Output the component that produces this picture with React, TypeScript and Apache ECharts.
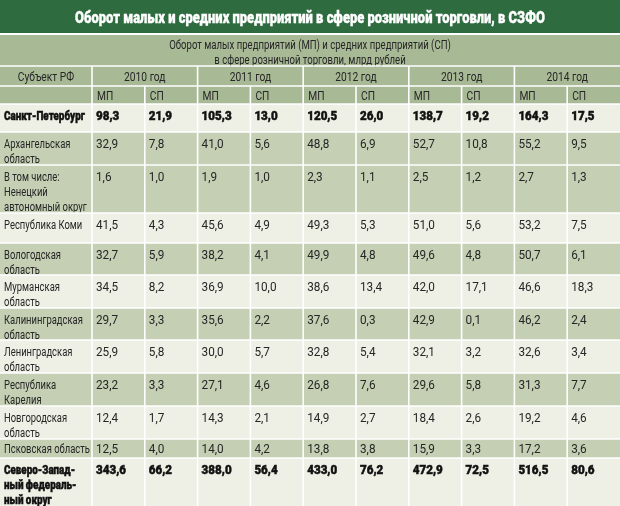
import React, { useEffect, useRef } from "react";
import * as echarts from "echarts";

const titleText = "Оборот малых и средних предприятий в сфере розничной торговли, в СЗФО";
const subtitleLines = [
  "Оборот малых предприятий (МП) и средних предприятий (СП)",
  "в сфере розничной торговли, млрд рублей",
];
const subjectLabel = "Субъект РФ";
const years = ["2010 год", "2011 год", "2012 год", "2013 год", "2014 год"];
const sizeLabels = ["МП", "СП"];

const regions = [
  "Санкт-Петербург",
  "Архангельская\nобласть",
  "В том числе:\nНенецкий\nавтономный округ",
  "Республика Коми",
  "Вологодская\nобласть",
  "Мурманская\nобласть",
  "Калининградская\nобласть",
  "Ленинградская\nобласть",
  "Республика\nКарелия",
  "Новгородская\nобласть",
  "Псковская область",
  "Северо-Запад-\nный федераль-\nный округ",
];

const mp2010 = [98.3, 32.9, 1.6, 41.5, 32.7, 34.5, 29.7, 25.9, 23.2, 12.4, 12.5, 343.6];
const sp2010 = [21.9, 7.8, 1.0, 4.3, 5.9, 8.2, 3.3, 5.8, 3.3, 1.7, 4.0, 66.2];
const mp2011 = [105.3, 41.0, 1.9, 45.6, 38.2, 36.9, 35.6, 30.0, 27.1, 14.3, 14.0, 388.0];
const sp2011 = [13.0, 5.6, 1.0, 4.9, 4.1, 10.0, 2.2, 5.7, 4.6, 2.1, 4.2, 56.4];
const mp2012 = [120.5, 48.8, 2.3, 49.3, 49.9, 38.6, 37.6, 32.8, 26.8, 14.9, 13.8, 433.0];
const sp2012 = [26.0, 6.9, 1.1, 5.3, 4.8, 13.4, 0.3, 5.4, 7.6, 2.7, 3.8, 76.2];
const mp2013 = [138.7, 52.7, 2.5, 51.0, 49.6, 42.0, 42.9, 32.1, 29.6, 18.4, 15.9, 472.9];
const sp2013 = [19.2, 10.8, 1.2, 5.6, 4.8, 17.1, 0.1, 3.2, 5.8, 2.6, 3.3, 72.5];
const mp2014 = [164.3, 55.2, 2.7, 53.2, 50.7, 46.6, 46.2, 32.6, 31.3, 19.2, 17.2, 516.5];
const sp2014 = [17.5, 9.5, 1.3, 7.5, 6.1, 18.3, 2.4, 3.4, 7.7, 4.6, 3.6, 80.6];

const boldRows = [0, 11];
const shadedRows = [1, 2, 4, 6, 8, 10];

// layout
const W = 620;
const H = 506;
const FIRST_COL = 92;
const TITLE_H = 33;
const SUB_TOP = 35;
const YEAR_TOP = 66;
const SIZE_TOP = 86;
const TABLE_TOP = 104;
const rowHeights = [28, 33, 48, 30, 32, 33, 32, 33, 33, 33, 19, 48];

const C_TITLE = "#2e6c40";
const C_HEAD = "#a8b996";
const C_GREEN = "#c4cfb4";
const C_LIGHT = "#eef0e5";
const C_TEXT = "#262626";
const FONT = "Roboto, 'Noto Sans', sans-serif";

const fmt = (v: number) => v.toFixed(1).replace(".", ",");

function measure(text: string, font: string) {
  const c = document.createElement("canvas").getContext("2d");
  if (!c) return 1;
  c.font = font;
  return c.measureText(text).width || 1;
}

function txt(text: string, x: number, y: number, o: any) {
  const { scaleX = 1, ...style } = o;
  return {
    type: "text",
    x,
    y,
    scaleX,
    style: { text, x: 0, y: 0, fontFamily: FONT, fill: C_TEXT, ...style },
  };
}

function buildGraphic() {
  const cols = [mp2010, sp2010, mp2011, sp2011, mp2012, sp2012, mp2013, sp2013, mp2014, sp2014];
  const colW = (W - FIRST_COL) / cols.length;
  const els: any[] = [];
  els.push({ type: "rect", shape: { x: 0, y: 0, width: W, height: H }, style: { fill: "#ffffff" } });
  els.push({ type: "rect", shape: { x: 0, y: 0, width: W, height: TITLE_H }, style: { fill: C_TITLE } });
  const titleScale = 470 / measure(titleText, `900 17px Roboto`);
  els.push(
    txt(titleText, W / 2, TITLE_H / 2 + 1, {
      fill: "#ffffff", fontSize: 17, fontWeight: 900, align: "center", verticalAlign: "middle", scaleX: titleScale,
      stroke: "#ffffff", lineWidth: 0.4,
    })
  );
  els.push({ type: "rect", shape: { x: 0, y: SUB_TOP, width: W, height: TABLE_TOP - SUB_TOP }, style: { fill: C_HEAD } });
  const subScale = 282 / measure(subtitleLines[0], `12.5px Roboto`);
  els.push(
    txt(subtitleLines.join("\n"), W / 2, SUB_TOP + 3, {
      fontSize: 12.5, align: "center", verticalAlign: "top", lineHeight: 15, scaleX: subScale,
    })
  );
  const headScale = 0.76;
  els.push(
    txt(subjectLabel, FIRST_COL / 2, (YEAR_TOP + SIZE_TOP) / 2 + 0.5, {
      fontSize: 13.5, align: "center", verticalAlign: "middle", scaleX: headScale,
    })
  );
  years.forEach((yr, i) => {
    els.push(
      txt(yr, FIRST_COL + colW * (2 * i + 1), (YEAR_TOP + SIZE_TOP) / 2 + 0.5, {
        fontSize: 13.5, align: "center", verticalAlign: "middle", scaleX: headScale,
      })
    );
  });
  cols.forEach((_, j) => {
    els.push(
      txt(sizeLabels[j % 2], FIRST_COL + colW * j + 5, (SIZE_TOP + TABLE_TOP) / 2 + 0.5, {
        fontSize: 13.5, align: "left", verticalAlign: "middle", scaleX: headScale,
      })
    );
  });
  // body
  let y = TABLE_TOP;
  const rowTops: number[] = [];
  regions.forEach((name, r) => {
    const h = rowHeights[r];
    rowTops.push(y);
    els.push({
      type: "rect", shape: { x: 0, y, width: W, height: h },
      style: { fill: shadedRows.includes(r) ? C_GREEN : C_LIGHT },
    });
    const bold = boldRows.includes(r);
    const firstMid = Math.min(11.5, h / 2);
    const ty = y + firstMid - 7.5;
    const common: any = {
      fontSize: 13.5, fontWeight: bold ? 900 : "normal", fill: bold ? "#111111" : C_TEXT,
      align: "left", verticalAlign: "top", lineHeight: 15,
    };
    if (bold) {
      common.stroke = "#111111";
      common.lineWidth = 0.5;
    }
    els.push(txt(name, 4, ty, { ...common, scaleX: bold ? 0.73 : 0.7 }));
    cols.forEach((arr, j) => {
      els.push(txt(fmt(arr[r]), FIRST_COL + colW * j + 4, ty, { ...common, scaleX: bold ? 0.86 : 0.87 }));
    });
    y += h;
  });
  const lineStyle = { stroke: "#ffffff", lineWidth: 1.6 };
  [TITLE_H + 1, YEAR_TOP, SIZE_TOP, ...rowTops].forEach((ly) => {
    els.push({ type: "line", shape: { x1: 0, y1: ly, x2: W, y2: ly }, style: lineStyle });
  });
  els.push({ type: "line", shape: { x1: FIRST_COL, y1: YEAR_TOP, x2: FIRST_COL, y2: H }, style: lineStyle });
  for (let j = 1; j < cols.length; j++) {
    const lx = FIRST_COL + colW * j;
    els.push({ type: "line", shape: { x1: lx, y1: j % 2 === 0 ? YEAR_TOP : SIZE_TOP, x2: lx, y2: H }, style: lineStyle });
  }
  return els;
}

export default function App() {
  const ref = useRef<HTMLDivElement>(null);
  useEffect(() => {
    if (!ref.current) return;
    const chart = echarts.init(ref.current, undefined, { renderer: "svg" });
    chart.setOption({ animation: false, graphic: { elements: buildGraphic() } });
    return () => chart.dispose();
  }, []);
  return <div ref={ref} style={{ position: "fixed", left: 0, top: 0, width: W, height: H }} />;
}
